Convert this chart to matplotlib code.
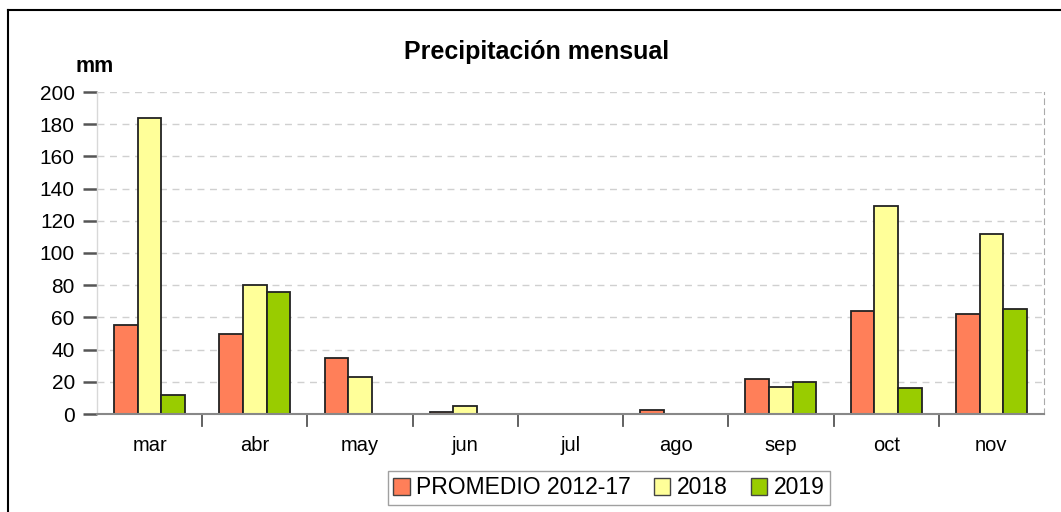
import matplotlib
matplotlib.use("Agg")
import matplotlib.pyplot as plt
import numpy as np
from matplotlib.lines import Line2D
from matplotlib.patches import Patch

plt.rcParams['font.family'] = ['Liberation Sans', 'DejaVu Sans']

months = ["mar", "abr", "may", "jun", "jul", "ago", "sep", "oct", "nov"]
promedio = [55, 50, 35, 1, 0, 2.5, 22, 64, 62]
y2018 = [184, 80, 23, 5, 0, 0, 17, 129, 112]
y2019 = [12, 76, 0, 0, 0, 0, 20, 16, 65]
series_names = ["PROMEDIO 2012-17", "2018", "2019"]
colors = ["#FF7F59", "#FFFF99", "#99CC00"]
yticks = [0, 20, 40, 60, 80, 100, 120, 140, 160, 180, 200]

W, H = 1061, 512
fig = plt.figure(figsize=(W / 100, H / 100), dpi=100)
ax = fig.add_axes([97 / W, 1 - 414 / H, (1044 - 97) / W, (414 - 92) / H])

x = np.arange(len(months))
bw = 0.225
for i, (vals, c) in enumerate(zip([promedio, y2018, y2019], colors)):
    ax.bar(x + (i - 1) * bw, vals, width=bw, color=c, edgecolor="#222222",
           linewidth=1.3, zorder=3)

ax.set_xlim(-0.5, len(months) - 0.5)
ax.set_ylim(0, 200)
ax.set_yticks(yticks)
ax.set_yticklabels([str(v) for v in yticks], fontsize=15)
ax.yaxis.grid(True, linestyle=(0, (5, 4)), color="#d0d0d0", linewidth=1, zorder=0)
ax.tick_params(axis="y", length=10, width=1.8, color="#555555", pad=6)

ax.set_xticks(x)
ax.set_xticklabels(months, fontsize=14.5)
ax.tick_params(axis="x", length=0, pad=16)
for b in np.arange(0.5, len(months) - 0.5, 1.0):
    ax.plot([b, b], [0, -0.037], transform=ax.get_xaxis_transform(),
            color="#555555", linewidth=1.3, clip_on=False)

ax.spines["top"].set_visible(False)
ax.spines["left"].set_color("#d8d8d8")
ax.spines["left"].set_linewidth(1)
ax.spines["right"].set_color("#aaaaaa")
ax.spines["right"].set_linestyle((0, (5, 4)))
ax.spines["bottom"].set_color("#888888")
ax.spines["bottom"].set_linewidth(1.5)
ax.spines["bottom"].set_zorder(4)

fig.text(537 / W, 1 - 52 / H, "Precipitación mensual", ha="center", va="center",
         fontsize=18, fontweight="bold")
fig.text(95 / W, 1 - 67 / H, "mm", ha="center", va="center", fontsize=15.5,
         fontweight="bold")

handles = [Patch(facecolor=c, edgecolor="#444444", linewidth=1) for c in colors]
leg = fig.legend(handles, series_names, loc="center", bbox_to_anchor=(609 / W, 1 - 488 / H),
                 ncol=3, fontsize=16.5, frameon=True, fancybox=False, handlelength=0.7,
                 handleheight=0.7, handletextpad=0.3, columnspacing=1.0,
                 borderpad=0.25)
leg.get_frame().set_edgecolor("#888888")
leg.get_frame().set_linewidth(1)

# outer frame
fig.add_artist(Line2D([8 / W, 1], [1 - 10 / H, 1 - 10 / H], transform=fig.transFigure,
                      color="black", linewidth=1.5))
fig.add_artist(Line2D([8 / W, 8 / W], [0, 1 - 10 / H], transform=fig.transFigure,
                      color="black", linewidth=1.5))

fig.savefig("out.png", dpi=100)
